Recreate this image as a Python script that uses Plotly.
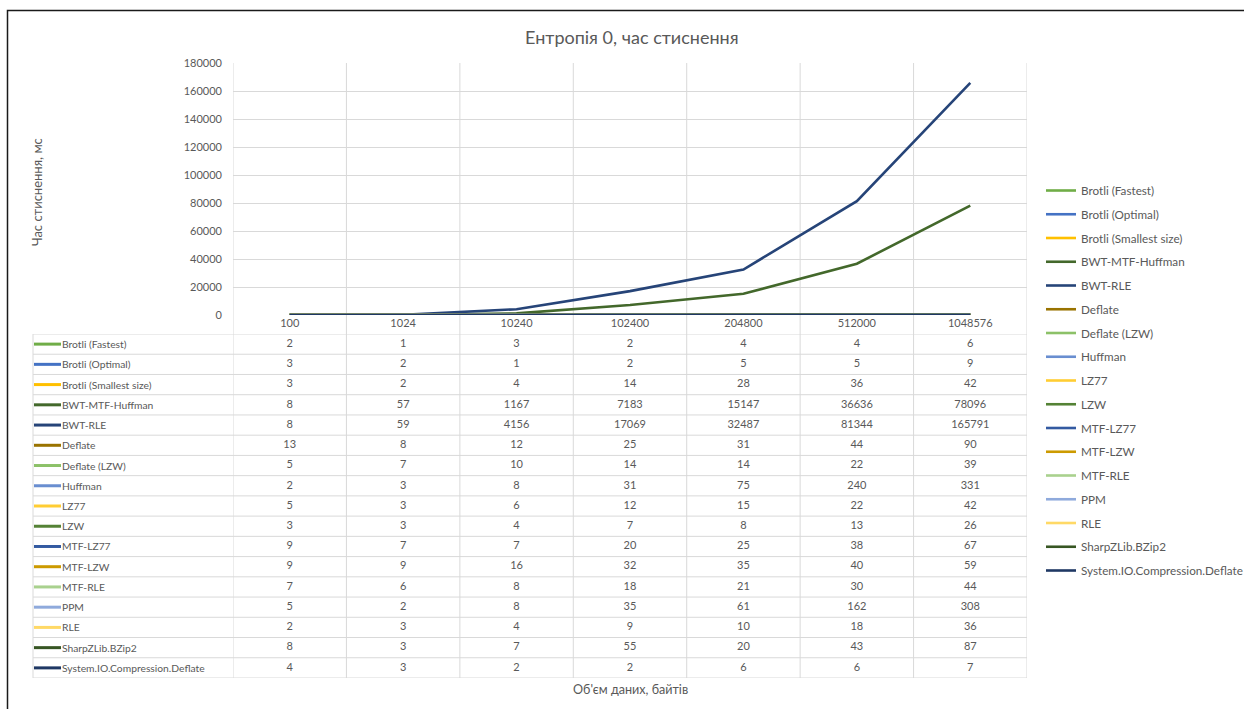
import plotly.graph_objects as go

# Input sizes, bytes
sizes = ["100", "1024", "10240", "102400", "204800", "512000", "1048576"]

# Compression time, ms
brotli_fastest = [2, 1, 3, 2, 4, 4, 6]
brotli_optimal = [3, 2, 1, 2, 5, 5, 9]
brotli_smallest = [3, 2, 4, 14, 28, 36, 42]
bwt_mtf_huffman = [8, 57, 1167, 7183, 15147, 36636, 78096]
bwt_rle = [8, 59, 4156, 17069, 32487, 81344, 165791]
deflate = [13, 8, 12, 25, 31, 44, 90]
deflate_lzw = [5, 7, 10, 14, 14, 22, 39]
huffman = [2, 3, 8, 31, 75, 240, 331]
lz77 = [5, 3, 6, 12, 15, 22, 42]
lzw = [3, 3, 4, 7, 8, 13, 26]
mtf_lz77 = [9, 7, 7, 20, 25, 38, 67]
mtf_lzw = [9, 9, 16, 32, 35, 40, 59]
mtf_rle = [7, 6, 8, 18, 21, 30, 44]
ppm = [5, 2, 8, 35, 61, 162, 308]
rle = [2, 3, 4, 9, 10, 18, 36]
sharpzlib_bzip2 = [8, 3, 7, 55, 20, 43, 87]
sysio_deflate = [4, 3, 2, 2, 6, 6, 7]

series = [
    ("Brotli (Fastest)", brotli_fastest, "#70AD47"),
    ("Brotli (Optimal)", brotli_optimal, "#4472C4"),
    ("Brotli (Smallest size)", brotli_smallest, "#FFC000"),
    ("BWT-MTF-Huffman", bwt_mtf_huffman, "#43682B"),
    ("BWT-RLE", bwt_rle, "#264478"),
    ("Deflate", deflate, "#997300"),
    ("Deflate (LZW)", deflate_lzw, "#8CC168"),
    ("Huffman", huffman, "#698ED0"),
    ("LZ77", lz77, "#FFCD33"),
    ("LZW", lzw, "#548235"),
    ("MTF-LZ77", mtf_lz77, "#335AA1"),
    ("MTF-LZW", mtf_lzw, "#CC9A00"),
    ("MTF-RLE", mtf_rle, "#A9D18E"),
    ("PPM", ppm, "#8FAADC"),
    ("RLE", rle, "#FFD966"),
    ("SharpZLib.BZip2", sharpzlib_bzip2, "#375623"),
    ("System.IO.Compression.Deflate", sysio_deflate, "#1F3864"),
]

FONT = "Lato, 'Open Sans', sans-serif"
TXT = "#595959"
GRID = "#D9D9D9"

W, H = 1244, 709
L, R, T, B = 233, 217, 63, 31
pw, ph = W - L - R, H - T - B


def px_x(px):
    return (px - L) / pw


def px_y(py):
    return (H - B - py) / ph


plot_bottom = 315
table_top, table_bottom = 334, 678
nrows = len(series)

fig = go.Figure()

for name, vals, color in series:
    fig.add_trace(go.Scatter(
        x=sizes, y=vals, name=name, mode="lines",
        line=dict(color=color, width=2.6),
        legendgroup=name,
    ))

# data table values
tx, ty, tt = [], [], []
for i, (name, vals, color) in enumerate(series):
    for s, v in zip(sizes, vals):
        tx.append(s)
        ty.append(i + 0.5)
        tt.append(str(v))
fig.add_trace(go.Scatter(
    x=tx, y=ty, text=tt, mode="text", yaxis="y2", showlegend=False,
    textfont=dict(family=FONT, size=11, color=TXT), hoverinfo="skip",
))

shapes = []
annotations = []

# table row lines and legend keys / labels
tab_left = px_x(33)
for k in range(nrows + 1):
    shapes.append(dict(type="line", xref="paper", yref="y2", x0=tab_left, x1=1,
                       y0=k, y1=k, line=dict(color=GRID, width=1), layer="below"))
shapes.append(dict(type="line", xref="paper", yref="y2", x0=tab_left, x1=tab_left,
                   y0=0, y1=nrows, line=dict(color=GRID, width=1), layer="below"))
for i, (name, vals, color) in enumerate(series):
    shapes.append(dict(type="line", xref="paper", yref="y2", x0=px_x(34), x1=px_x(61),
                       y0=i + 0.5, y1=i + 0.5, line=dict(color=color, width=3)))
    annotations.append(dict(text=name, xref="paper", yref="y2", x=px_x(60), y=i + 0.5,
                            xanchor="left", yanchor="middle", showarrow=False,
                            font=dict(family=FONT, size=10.3, color=TXT)))

# column separators running from plot top through the table
for c in range(len(sizes) + 1):
    shapes.append(dict(type="line", xref="x", yref="paper", x0=c - 0.5, x1=c - 0.5,
                       y0=0, y1=1, line=dict(color=GRID, width=1), layer="below"))

# outer frame
shapes.append(dict(type="rect", xref="paper", yref="paper",
                   x0=px_x(7.5), x1=px_x(W + 5), y0=px_y(10.5), y1=px_y(H + 5),
                   line=dict(color="#1A1A1A", width=1.5), fillcolor="rgba(0,0,0,0)"))

annotations += [
    dict(text="Ентропія 0, час стиснення", xref="paper", yref="paper",
         x=px_x(632), y=px_y(37), showarrow=False, xanchor="center", yanchor="middle",
         font=dict(family=FONT, size=18, color=TXT)),
    dict(text="Час стиснення, мс", xref="paper", yref="paper",
         x=px_x(37), y=px_y(192), showarrow=False, textangle=-90,
         xanchor="center", yanchor="middle",
         font=dict(family=FONT, size=13, color=TXT)),
    dict(text="Об'єм даних, байтів", xref="paper", yref="paper",
         x=px_x(630), y=px_y(689), showarrow=False, xanchor="center", yanchor="middle",
         font=dict(family=FONT, size=12.6, color=TXT)),
]

fig.update_layout(
    width=W, height=H,
    margin=dict(l=L, r=R, t=T, b=B),
    paper_bgcolor="white", plot_bgcolor="white",
    font=dict(family=FONT, size=11, color=TXT),
    xaxis=dict(type="category", categoryorder="array", categoryarray=sizes,
               range=[-0.5, len(sizes) - 0.5], showgrid=False, zeroline=False,
               showline=False, ticks="", tickfont=dict(size=11, color=TXT),
               anchor="y", fixedrange=True, automargin=False),
    yaxis=dict(domain=[px_y(plot_bottom), 1], range=[0, 180000], dtick=20000,
               showgrid=True, gridcolor=GRID, gridwidth=1, zeroline=False,
               showline=False, ticks="", ticklabelstandoff=10, automargin=False,
               tickfont=dict(size=11, color=TXT), tickformat="d"),
    yaxis2=dict(domain=[0, px_y(table_top)], range=[nrows, 0], visible=False,
                anchor="x"),
    legend=dict(xref="container", yref="container",
                x=1041 / W, y=1 - 176 / H, xanchor="left", yanchor="top",
                font=dict(family=FONT, size=11.7, color=TXT), maxheight=480,
                tracegroupgap=4.75, itemwidth=30, bgcolor="rgba(0,0,0,0)"),
    shapes=shapes,
    annotations=annotations,
    showlegend=True,
)

fig.write_html("out.html")
